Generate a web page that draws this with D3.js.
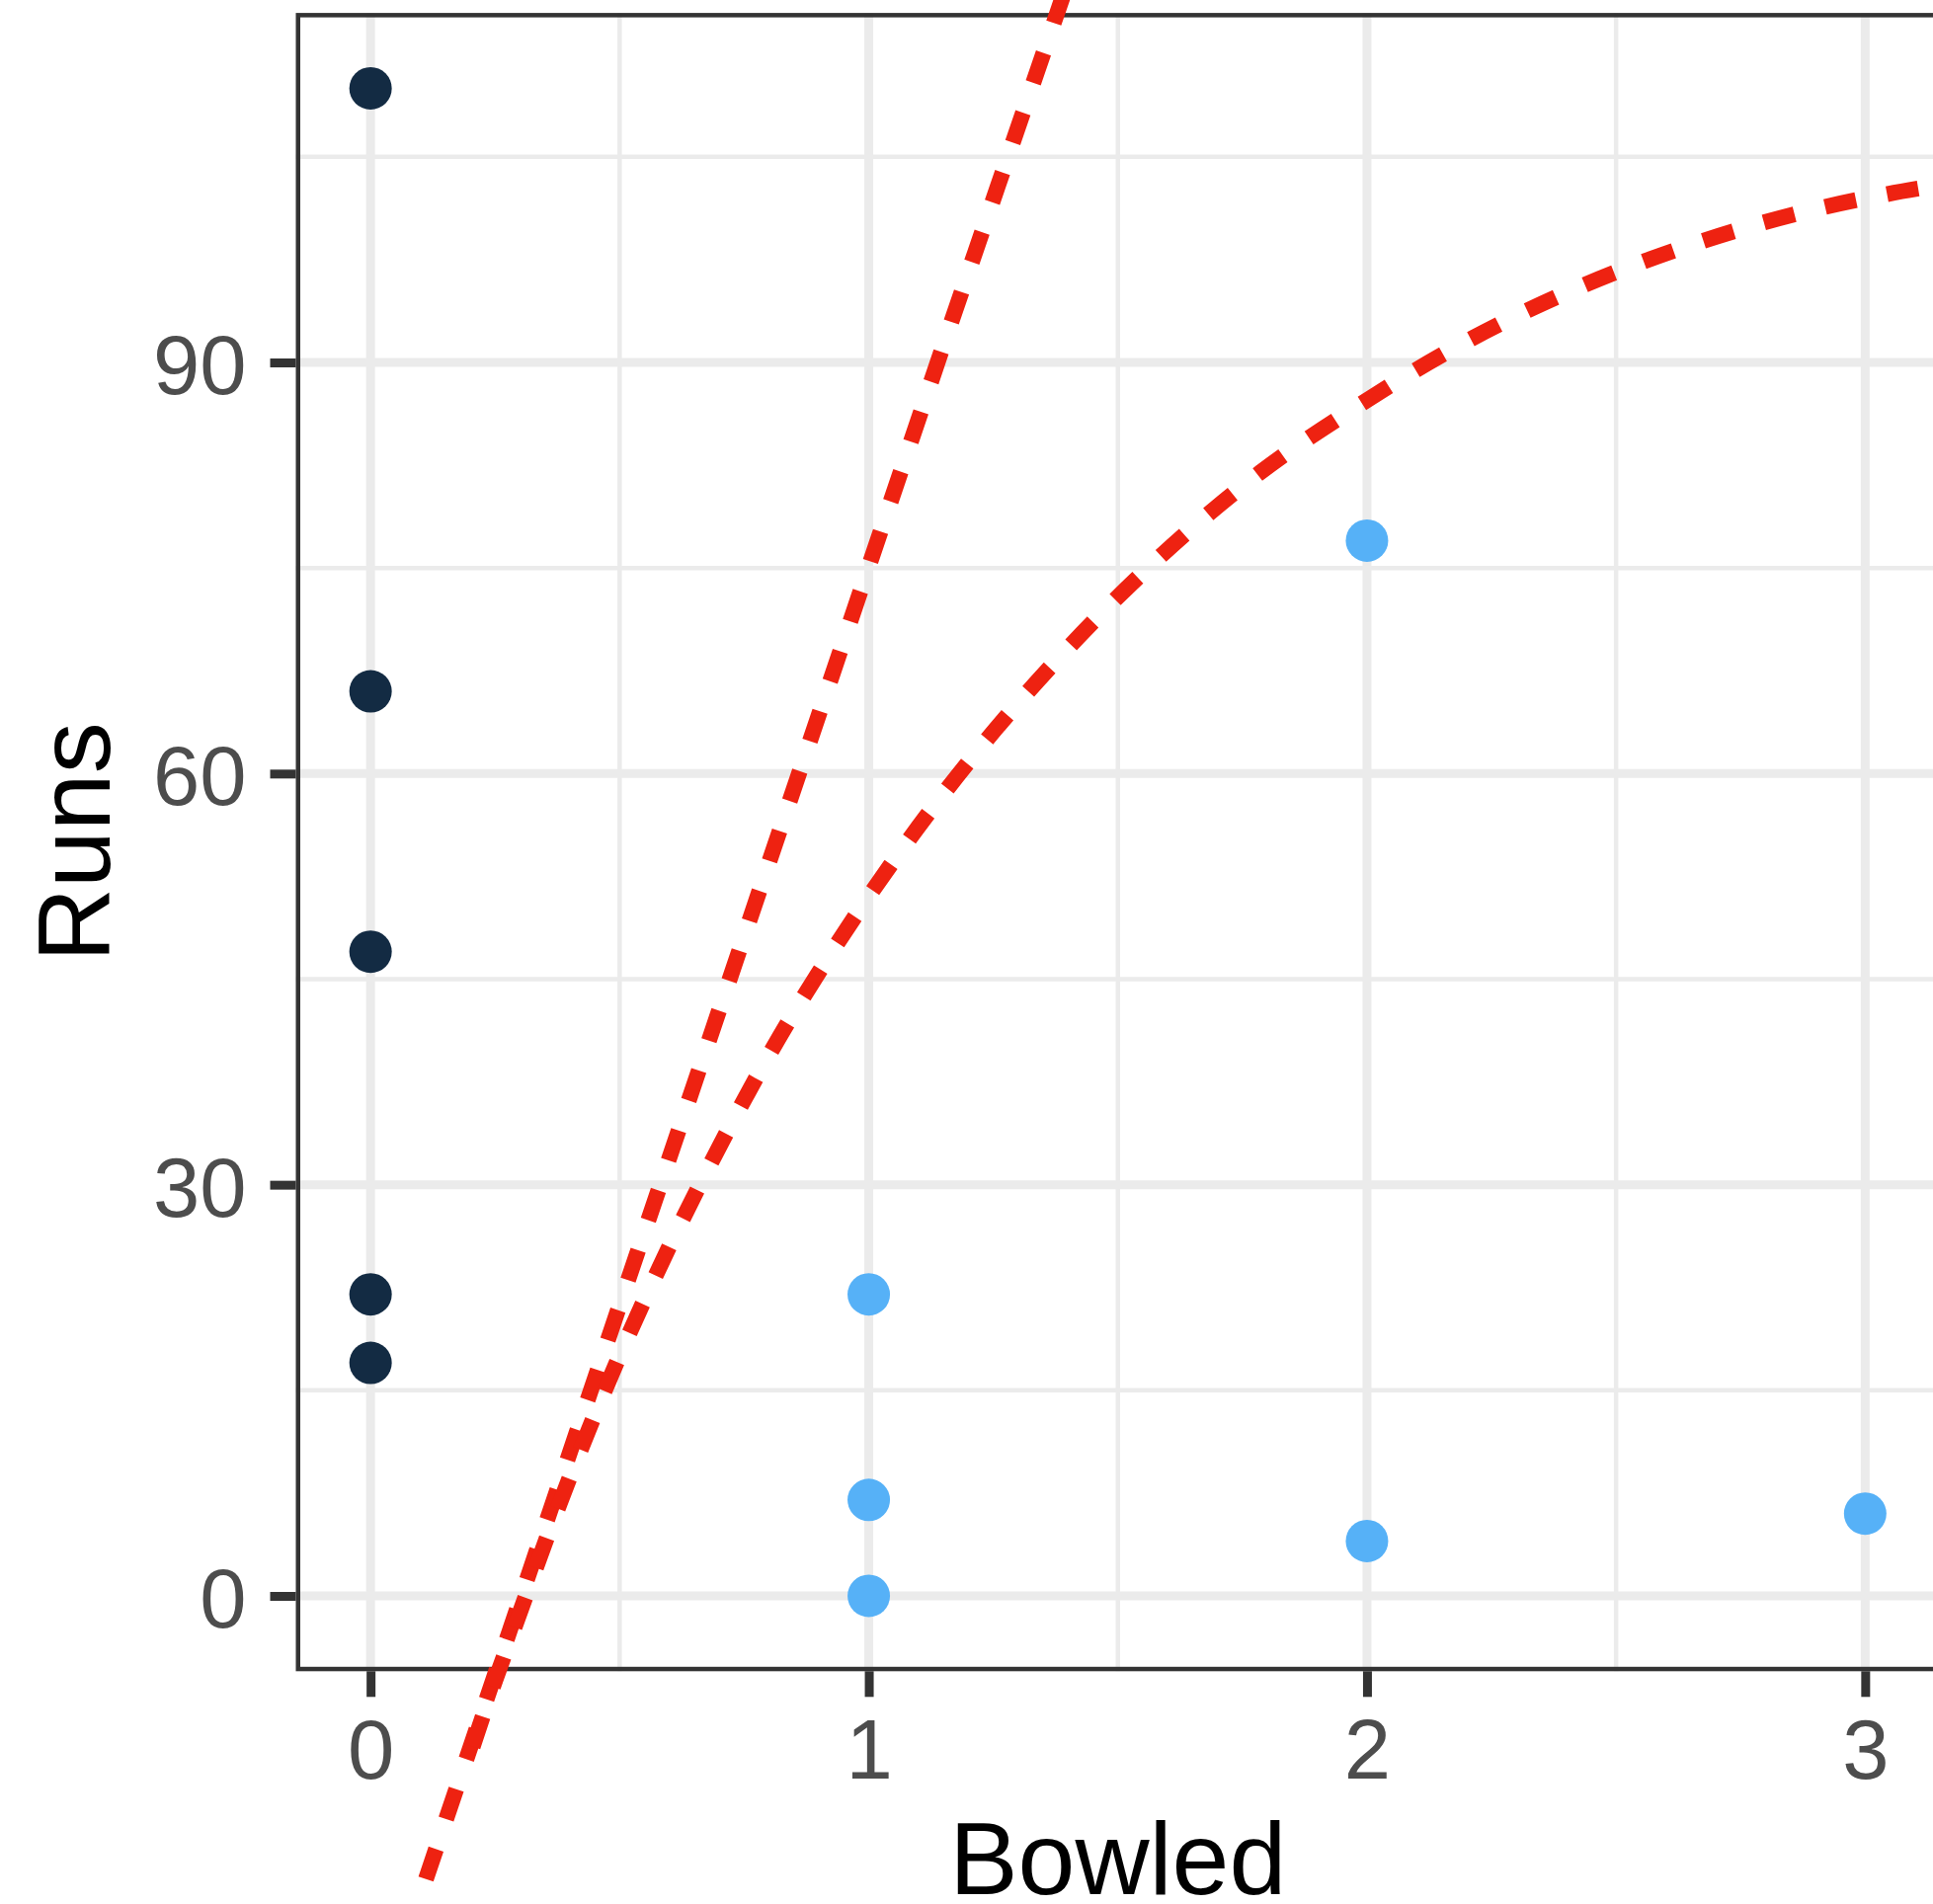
<!DOCTYPE html>
<html>
<head>
<meta charset="utf-8">
<script src="https://cdn.jsdelivr.net/npm/d3@7"></script>
<style>
  html, body { margin: 0; padding: 0; background: #ffffff; }
  svg { display: block; font-family: "Liberation Sans", Arial, Helvetica, sans-serif; }
</style>
</head>
<body>
<div id="chart"></div>
<script>
// Points (Bowled vs Runs), colour split by group
const bowled = [0, 0, 0, 0, 0, 1, 1, 1, 2, 2, 3];
const runs = [110, 66, 47, 22, 17, 22, 7, 0, 77, 4, 6];
const group = ["zero", "zero", "zero", "zero", "zero", "some", "some", "some", "some", "some", "some"];

// Steep dashed reference line
const steepBowled = [0.03, 0.302, 0.667, 1.153, 1.43];
const steepRuns = [-29.4, -0.1, 39.2, 91.6, 121];

// Curved dashed line
const curveBowled = [0.205, 0.244, 0.287, 0.374, 0.468, 0.57, 0.682, 0.802, 0.935, 1.077, 1.233,
  1.401, 1.581, 1.776, 1.985, 2.203, 2.433, 2.669, 2.914, 3.039, 3.16];
const curveRuns = [-11.0, -6.8, -2.5, 6.2, 14.8, 23.2, 31.5, 39.6, 47.5, 55.0, 62.3,
  69.2, 75.7, 81.7, 86.9, 91.6, 95.6, 98.8, 101.3, 102.25, 103.0];

// Axis ticks
const xTicks = [0, 1, 2, 3];
const xMinor = [0.5, 1.5, 2.5];
const yTicks = [0, 30, 60, 90];
const yMinor = [15, 45, 75, 105];

const width = 1957;
const height = 1928;

// panel runs a little past the right edge of the picture
const panel = { left: 299.5, right: 1964, top: 13.1, bottom: 1692.3 };

const x = d3.scaleLinear().domain([-0.15, 3.15]).range([panel.left, panel.right]);
const y = d3.scaleLinear().domain([-5.5, 115.5]).range([panel.bottom, panel.top]);

const colour = d3.scaleOrdinal().domain(["zero", "some"]).range(["#132B43", "#56B1F7"]);

const svg = d3
  .select("#chart")
  .append("svg")
  .attr("width", width)
  .attr("height", height);

svg.append("rect").attr("width", width).attr("height", height).attr("fill", "#ffffff");

// Grid lines (minor first, then major)
const grid = svg.append("g");

function vLines(values, w) {
  grid
    .append("g")
    .selectAll("line")
    .data(values)
    .join("line")
    .attr("x1", (d) => x(d))
    .attr("x2", (d) => x(d))
    .attr("y1", panel.top)
    .attr("y2", panel.bottom)
    .attr("stroke", "#EBEBEB")
    .attr("stroke-width", w);
}

function hLines(values, w) {
  grid
    .append("g")
    .selectAll("line")
    .data(values)
    .join("line")
    .attr("x1", panel.left)
    .attr("x2", panel.right)
    .attr("y1", (d) => y(d))
    .attr("y2", (d) => y(d))
    .attr("stroke", "#EBEBEB")
    .attr("stroke-width", w);
}

vLines(xMinor, 4.5);
hLines(yMinor, 4.5);
vLines(xTicks, 9);
hLines(yTicks, 9);

// Points
const points = bowled.map((b, i) => ({ bowled: b, runs: runs[i], group: group[i] }));

svg
  .append("g")
  .selectAll("circle")
  .data(points)
  .join("circle")
  .attr("cx", (d) => x(d.bowled))
  .attr("cy", (d) => y(d.runs))
  .attr("r", 21.5)
  .attr("fill", (d) => colour(d.group));

// Panel border (drawn inside the panel edge)
svg
  .append("rect")
  .attr("x", panel.left + 2.25)
  .attr("y", panel.top + 2.25)
  .attr("width", panel.right - panel.left - 4.5)
  .attr("height", panel.bottom - panel.top - 4.5)
  .attr("fill", "none")
  .attr("stroke", "#333333")
  .attr("stroke-width", 4.5);

// Axes
function styleAxis(g) {
  g.attr("font-size", null).attr("font-family", null);
  g.select(".domain").remove();
  g.selectAll(".tick line").attr("stroke", "#333333").attr("stroke-width", 9);
  g.selectAll(".tick text").attr("fill", "#4D4D4D").style("font-size", "85px");
}

svg
  .append("g")
  .attr("transform", `translate(${panel.left},0)`)
  .call(d3.axisLeft(y).tickValues(yTicks).tickFormat(d3.format("d")).tickSize(26).tickPadding(24))
  .call(styleAxis)
  .call((g) => g.selectAll(".tick text").attr("dy", "0.37em"));

svg
  .append("g")
  .attr("transform", `translate(0,${panel.bottom})`)
  .call(d3.axisBottom(x).tickValues(xTicks).tickFormat(d3.format("d")).tickSize(26).tickPadding(22))
  .call(styleAxis);

// Axis titles
svg
  .append("text")
  .attr("x", (panel.left + panel.right) / 2)
  .attr("y", 1918)
  .attr("text-anchor", "middle")
  .style("font-size", "104px")
  .attr("fill", "#000000")
  .text("Bowled");

svg
  .append("text")
  .attr("transform", `translate(110.7,${(panel.top + panel.bottom) / 2}) rotate(-90)`)
  .attr("text-anchor", "middle")
  .style("font-size", "104px")
  .attr("fill", "#000000")
  .text("Runs");

// Dashed red lines, drawn on top and not clipped to the panel
const steep = steepBowled.map((b, i) => [b, steepRuns[i]]);
const bend = curveBowled.map((b, i) => [b, curveRuns[i]]);

svg
  .append("path")
  .datum(steep)
  .attr("d", d3.line().x((d) => x(d[0])).y((d) => y(d[1])))
  .attr("fill", "none")
  .attr("stroke", "#EE2211")
  .attr("stroke-width", 16)
  .attr("stroke-dasharray", "32,32");

svg
  .append("path")
  .datum(bend)
  .attr("d", d3.line().curve(d3.curveMonotoneX).x((d) => x(d[0])).y((d) => y(d[1])))
  .attr("fill", "none")
  .attr("stroke", "#EE2211")
  .attr("stroke-width", 16)
  .attr("stroke-dasharray", "32,32");
</script>
</body>
</html>
